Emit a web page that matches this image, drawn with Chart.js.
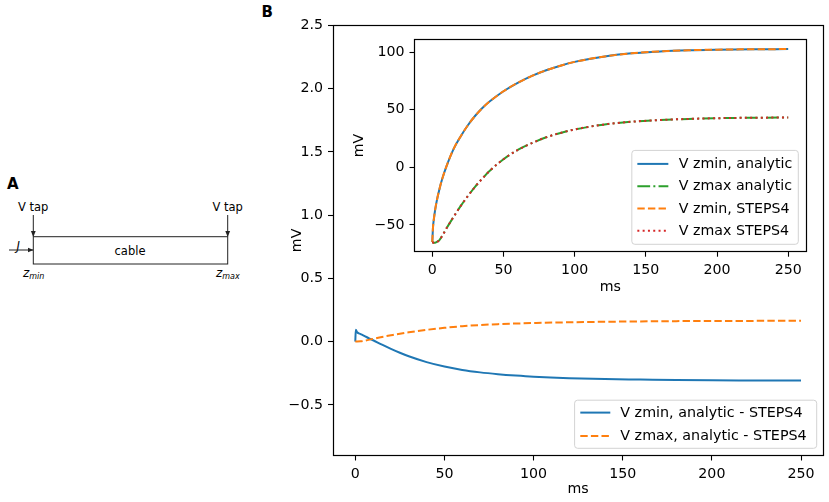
<!doctype html>
<html lang="en">
  <head>
    <meta charset="utf-8">
    <meta name="viewport" content="width=device-width, initial-scale=1">
    <title>Cable voltage: analytic vs STEPS4</title>
    <style>
      html, body { margin: 0; padding: 0; background: #fff; }
      .page { position: relative; width: 829px; height: 502px; overflow: hidden; font-family: "DejaVu Sans", sans-serif; }
      #schematic { position: absolute; left: 0; top: 0; }
      #mainChart { position: absolute; left: 0; top: 0; }
      #insetChart { position: absolute; left: 347px; top: 25.8px; }
    </style>
  </head>
  <body>
    <div class="page">
      <svg id="schematic" width="829" height="502" font-family="DejaVu Sans, sans-serif">
        <defs>
          <marker id="head" markerWidth="6" markerHeight="6" refX="5.5" refY="3" orient="auto" markerUnits="userSpaceOnUse">
            <path d="M0,0.6 L6,3 L0,5.4 z" fill="#222"></path>
          </marker>
        </defs>
        <text x="7" y="188.5" font-size="15" font-weight="bold">A</text>
        <text x="261.5" y="16.7" font-size="15" font-weight="bold">B</text>
        <text x="18" y="211" font-size="11.5">V tap</text>
        <text x="212.5" y="211" font-size="11.5">V tap</text>
        <line x1="33.3" y1="215" x2="33.3" y2="236.5" stroke="#222" stroke-width="1" marker-end="url(#head)"></line>
        <line x1="227.7" y1="215" x2="227.7" y2="236.5" stroke="#222" stroke-width="1" marker-end="url(#head)"></line>
        <rect x="33.3" y="236.7" width="194.4" height="27.3" fill="none" stroke="#222" stroke-width="1"></rect>
        <text x="130" y="255" font-size="11.5" text-anchor="middle">cable</text>
        <text x="16.5" y="250" font-size="11.5" font-style="italic">J</text>
        <line x1="9" y1="250" x2="33" y2="250" stroke="#222" stroke-width="1" marker-end="url(#head)"></line>
        <text x="23" y="277" font-size="12" font-style="italic">z<tspan font-size="8" dy="1.5">min</tspan></text>
        <text x="216" y="277" font-size="12" font-style="italic">z<tspan font-size="8" dy="1.5">max</tspan></text>
      </svg>
      <canvas id="mainChart" width="829" height="502"></canvas>
      <canvas id="insetChart" width="470" height="274"></canvas>
    </div>

    <script type="text/javascript" src="https://cdn.jsdelivr.net/npm/chart.js"></script>
    <script>
      // inset: membrane potential at both ends of the cable (mV vs ms)
      const tInset = [0, 0.5, 1, 2, 3, 5, 7, 10, 15, 20, 25, 30, 35, 40, 50, 60, 70, 80, 90, 100, 120, 140, 160, 180, 200, 225, 250];
      const vZminAnalytic = [-65, -52, -46, -37, -30, -19, -10, 1, 16, 27, 36.5, 44.5, 51.2, 56.8, 66, 73.3, 79.3, 84.2, 88.2, 91.5, 96, 98.9, 100.6, 101.6, 102.1, 102.45, 102.6];
      const vZmaxAnalytic = [-65, -65.3, -65.5, -65.5, -65, -63.2, -59.5, -53, -43, -33.5, -25, -17, -10, -3.5, 7, 15, 21, 26, 29.8, 32.8, 37, 39.5, 41, 42, 42.6, 43, 43.2];
      const vZminSteps = [-65, -52, -46, -37, -30, -19, -10, 1, 16, 27, 36.5, 44.5, 51.2, 56.8, 66, 73.3, 79.3, 84.2, 88.2, 91.5, 96, 98.9, 100.6, 101.6, 102.1, 102.45, 102.6];
      const vZmaxSteps = [-65, -65.3, -65.5, -65.5, -65, -63.2, -59.5, -53, -43, -33.5, -25, -17, -10, -3.5, 7, 15, 21, 26, 29.8, 32.8, 37, 39.5, 41, 42, 42.6, 43, 43.2];

      // main: analytic minus STEPS4 (mV vs ms)
      const tDiffMin = [0, 0.3, 1, 3, 5, 8, 10, 15, 20, 25, 30, 40, 50, 60, 70, 80, 90, 100, 120, 140, 160, 180, 200, 225, 250];
      const vDiffMin = [0, 0.093, 0.074, 0.06, 0.046, 0.024, 0.011, -0.024, -0.057, -0.088, -0.116, -0.162, -0.197, -0.224, -0.243, -0.257, -0.268, -0.277, -0.289, -0.296, -0.300, -0.304, -0.306, -0.307, -0.308];
      const tDiffMax = [0, 3, 5, 10, 15, 20, 30, 40, 50, 60, 70, 80, 90, 100, 120, 140, 160, 180, 200, 225, 250];
      const vDiffMax = [0, 0.002, 0.006, 0.022, 0.037, 0.05, 0.074, 0.093, 0.109, 0.122, 0.131, 0.138, 0.143, 0.147, 0.153, 0.157, 0.16, 0.162, 0.163, 0.164, 0.165];

      // tick labels
      const xTicks = [0, 50, 100, 150, 200, 250];
      const mainYTicks = [-0.5, 0.0, 0.5, 1.0, 1.5, 2.0, 2.5];
      const insetYTicks = [-50, 0, 50, 100];

      const FONT = 'DejaVu Sans';
      const SIZE = 14.2;
      Chart.defaults.font.family = FONT;
      Chart.defaults.color = '#000';

      const pts = (xs, ys) => xs.map((x, i) => ({x: x, y: ys[i]}));
      const minus = s => s.replace('-', '\u2212');
      const snap = v => Math.floor(v) + 0.5;

      // white plot face and a full box around it, like matplotlib spines
      const framePlugin = {
        id: 'frame',
        beforeDraw(chart) {
          const {ctx, chartArea: a} = chart;
          ctx.save();
          ctx.fillStyle = '#fff';
          ctx.fillRect(a.left, a.top, a.right - a.left, a.bottom - a.top);
          ctx.restore();
        },
        afterDraw(chart) {
          const {ctx, chartArea: a} = chart;
          const l = snap(a.left), t = snap(a.top), r = snap(a.right), b = snap(a.bottom);
          ctx.save();
          ctx.setLineDash([]);
          ctx.strokeStyle = '#000';
          ctx.lineWidth = 1.2;
          ctx.strokeRect(l, t, r - l, b - t);
          ctx.restore();
        }
      };

      // legend box in the lower right corner of the plot area
      const boxLegend = {
        id: 'boxLegend',
        afterDraw(chart, args, opts) {
          const {ctx, chartArea: a} = chart;
          const sets = chart.data.datasets;
          ctx.save();
          ctx.font = opts.fontSize + 'px "' + FONT + '"';
          const textW = Math.max(...sets.map(d => ctx.measureText(d.label).width));
          const w = opts.padLeft + opts.sampleLen + opts.gap + textW + opts.padRight;
          const h = 2 * opts.edge + (sets.length - 1) * opts.rowH;
          const x0 = a.right - opts.offsetX - w;
          const y0 = a.bottom - opts.offsetY - h;
          ctx.beginPath();
          ctx.roundRect(x0, y0, w, h, 3);
          ctx.fillStyle = 'rgba(255,255,255,0.8)';
          ctx.fill();
          ctx.strokeStyle = '#d3d3d3';
          ctx.lineWidth = 1;
          ctx.stroke();
          sets.forEach((d, i) => {
            const y = y0 + opts.edge + i * opts.rowH;
            ctx.beginPath();
            ctx.setLineDash(d.borderDash || []);
            ctx.strokeStyle = d.borderColor;
            ctx.lineWidth = d.borderWidth;
            ctx.moveTo(x0 + opts.padLeft, y);
            ctx.lineTo(x0 + opts.padLeft + opts.sampleLen, y);
            ctx.stroke();
            ctx.setLineDash([]);
            ctx.fillStyle = '#000';
            ctx.textBaseline = 'middle';
            ctx.fillText(d.label, x0 + opts.padLeft + opts.sampleLen + opts.gap, y + 0.5);
          });
          ctx.restore();
        }
      };

      const axisX = (height) => ({
        type: 'linear',
        min: -12.5,
        max: 262.5,
        afterBuildTicks: s => { s.ticks = xTicks.map(v => ({value: v})); },
        afterFit: s => { s.height = height; },
        grid: {drawOnChartArea: false, color: '#000', tickLength: 5, tickWidth: 1.1},
        border: {display: false},
        ticks: {color: '#000', font: {size: SIZE}, padding: 5, maxRotation: 0, callback: v => String(v)},
        title: {display: true, text: 'ms', color: '#000', font: {size: SIZE}}
      });

      const axisY = (width, min, max, tickValues, fmt) => ({
        type: 'linear',
        min: min,
        max: max,
        afterBuildTicks: s => { s.ticks = tickValues.map(v => ({value: v})); },
        afterFit: s => { s.width = width; },
        grid: {drawOnChartArea: false, color: '#000', tickLength: 5, tickWidth: 1.1},
        border: {display: false},
        ticks: {color: '#000', font: {size: SIZE}, padding: 5, callback: fmt},
        title: {display: true, text: 'mV', color: '#000', font: {size: SIZE}}
      });

      // main chart: differences
      const mainChart = new Chart(document.getElementById('mainChart'), {
        type: 'line',
        data: {
          datasets: [
            {label: 'V zmin, analytic - STEPS4', data: pts(tDiffMin, vDiffMin), borderColor: '#1f77b4', borderWidth: 2, order: 2},
            {label: 'V zmax, analytic - STEPS4', data: pts(tDiffMax, vDiffMax), borderColor: '#ff7f0e', borderWidth: 2, borderDash: [7.4, 3.2], order: 1}
          ]
        },
        options: {
          responsive: false,
          animation: false,
          layout: {padding: {left: 285, top: 25.3, right: 5.7, bottom: 0}},
          elements: {point: {radius: 0}, line: {cubicInterpolationMode: 'monotone', fill: false}},
          plugins: {
            legend: {display: false},
            tooltip: {enabled: false},
            boxLegend: {fontSize: 14.3, padLeft: 5.7, sampleLen: 30, gap: 10, padRight: 10, edge: 12.4, rowH: 23.3, offsetX: 6.6, offsetY: 7.2}
          },
          scales: {
            x: axisX(46.5),
            y: axisY(48, -0.9, 2.5, mainYTicks, v => minus(Number(v).toFixed(1)))
          }
        },
        plugins: [framePlugin, boxLegend]
      });

      // inset chart: membrane potentials
      const insetChart = new Chart(document.getElementById('insetChart'), {
        type: 'line',
        data: {
          datasets: [
            {label: 'V zmin, analytic', data: pts(tInset, vZminAnalytic), borderColor: '#1f77b4', borderWidth: 2, order: 4},
            {label: 'V zmax analytic', data: pts(tInset, vZmaxAnalytic), borderColor: '#2ca02c', borderWidth: 2, borderDash: [12.8, 3.2, 2, 3.2], order: 3},
            {label: 'V zmin, STEPS4', data: pts(tInset, vZminSteps), borderColor: '#ff7f0e', borderWidth: 2, borderDash: [7.4, 3.2], order: 2},
            {label: 'V zmax STEPS4', data: pts(tInset, vZmaxSteps), borderColor: '#d62728', borderWidth: 2, borderDash: [2, 3.3], order: 1}
          ]
        },
        options: {
          responsive: false,
          animation: false,
          layout: {padding: {left: 0, top: 9.3, right: 11, bottom: 0}},
          elements: {point: {radius: 0}, line: {cubicInterpolationMode: 'monotone', fill: false}},
          plugins: {
            legend: {display: false},
            tooltip: {enabled: false},
            boxLegend: {fontSize: 14.2, padLeft: 5.5, sampleLen: 31, gap: 10.5, padRight: 6, edge: 13.5, rowH: 22.3, offsetX: 7.7, offsetY: 7.4}
          },
          scales: {
            x: axisX(48.3),
            y: axisY(67.5, -73.3, 110.9, insetYTicks, v => minus(String(v)))
          }
        },
        plugins: [framePlugin, boxLegend]
      });
    </script>
  </body>
</html>
